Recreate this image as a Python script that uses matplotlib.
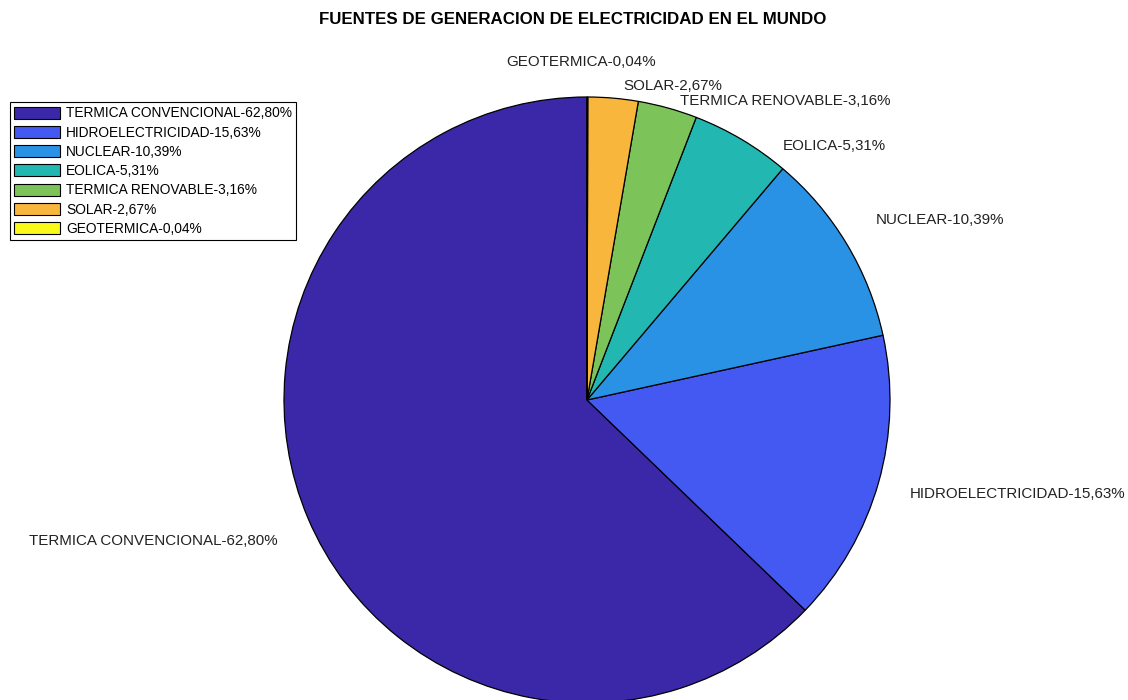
import matplotlib
matplotlib.use('Agg')
import matplotlib.pyplot as plt

plt.rcParams['font.family'] = ['Liberation Sans', 'DejaVu Sans']

# Electricity generation share by source (%)
sources = ['TERMICA CONVENCIONAL', 'HIDROELECTRICIDAD', 'NUCLEAR', 'EOLICA',
           'TERMICA RENOVABLE', 'SOLAR', 'GEOTERMICA']
shares = [62.80, 15.63, 10.39, 5.31, 3.16, 2.67, 0.04]
colors = ['#3b28a8', '#4459f2', '#2a92e4', '#23b7b2',
          '#7cc45a', '#f8b73c', '#f9f91a']

labels = [f"{s}-{v:.2f}%".replace('.', ',') for s, v in zip(sources, shares)]

# label anchor points (pie units, radius = 1) and alignment
label_pos = [(-1.02, -0.465, 'right'), (1.066, -0.31, 'left'),
             (0.954, 0.594, 'left'), (0.647, 0.838, 'left'),
             (0.307, 0.987, 'left'), (0.119, 1.036, 'left'),
             (-0.02, 1.115, 'center')]

W, H = 1128, 700
cx, cy, r = 587, 300, 303  # pie centre from bottom-left, radius in px

fig = plt.figure(figsize=(W / 100, H / 100), dpi=100)
ax = fig.add_axes([0, 0, 1, 1])
wedges, _ = ax.pie(shares, colors=colors, startangle=90, counterclock=True,
                   wedgeprops=dict(edgecolor='black', linewidth=0.9))
ax.set_xlim(-cx / r, (W - cx) / r)
ax.set_ylim(-cy / r, (H - cy) / r)
ax.set_aspect('auto')
ax.axis('off')

for lab, (x, y, ha) in zip(labels, label_pos):
    ax.text(x, y, lab, ha=ha, va='center', fontsize=10.9, color='#222222')

fig.text(573 / W, 1 - 19 / H, 'FUENTES DE GENERACION DE ELECTRICIDAD EN EL MUNDO',
         ha='center', va='center', fontsize=12.2, fontweight='bold')

leg = ax.legend(wedges, labels, loc='upper left',
                bbox_to_anchor=(10 / W, 1 - 102 / H), bbox_transform=fig.transFigure,
                borderaxespad=0, fontsize=9.9, handlelength=3.3, handleheight=0.95,
                labelspacing=0.38, handletextpad=0.45, borderpad=0.32,
                fancybox=False, framealpha=1)
leg.get_frame().set_edgecolor('black')
leg.get_frame().set_linewidth(0.8)
for h in leg.legend_handles:
    h.set_edgecolor('black')
    h.set_linewidth(0.8)

fig.savefig('out.png', dpi=100)
